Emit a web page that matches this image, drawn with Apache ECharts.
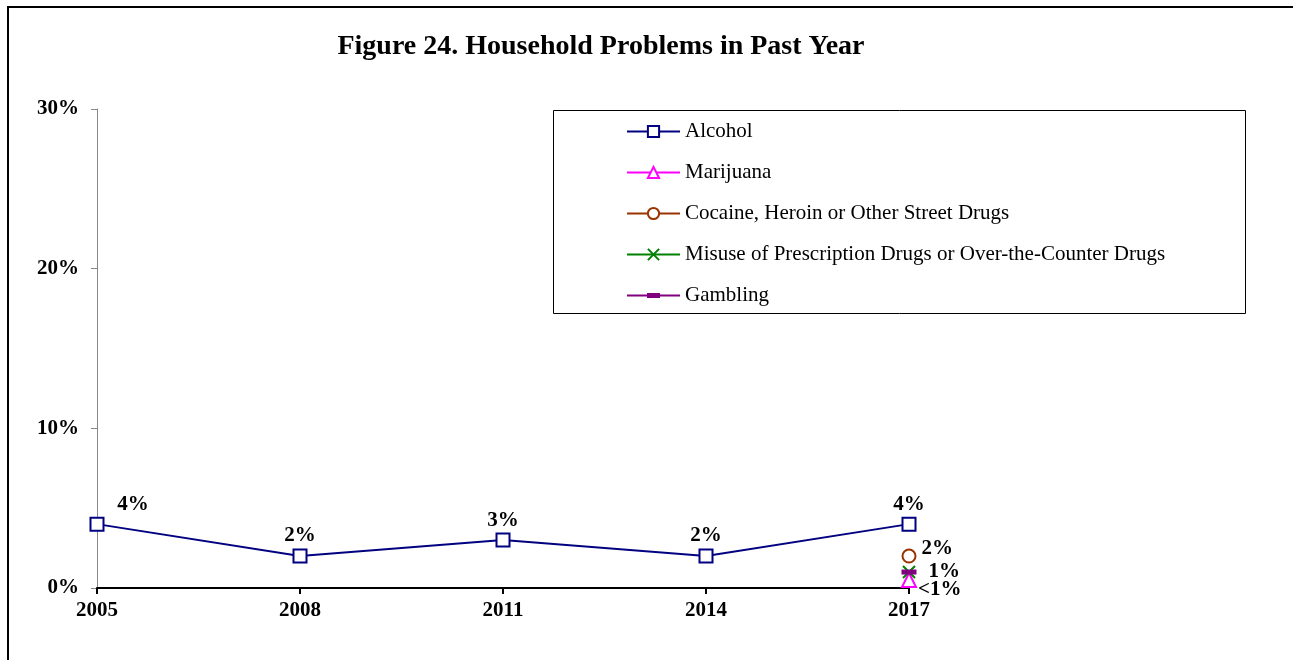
<!DOCTYPE html>
<html>
<head>
<meta charset="utf-8">
<script src="https://cdn.jsdelivr.net/npm/echarts@6/dist/echarts.min.js"></script>
<style>
  html, body { margin: 0; padding: 0; background: #fff; }
  #chart { width: 1293px; height: 660px; }
</style>
</head>
<body>
<div id="chart"></div>
<script>
// Survey years and percentage of households reporting each problem
const years = ['2005', '2008', '2011', '2014', '2017'];
const alcohol = [4, 2, 3, 2, 4];
const marijuana = [null, null, null, null, 0.5];
const cocaine = [null, null, null, null, 2];
const misuse = [null, null, null, null, 1];
const gambling = [null, null, null, null, 1];
const marijuanaLabel = '<1%';
const yTicks = [0, 10, 20, 30];

const serif = 'Liberation Serif, Times New Roman, serif';
const valueLabel = {
  show: true, position: 'top', distance: 2, fontFamily: serif, fontWeight: 'bold',
  fontSize: 21, color: '#000', formatter: p => p.value + '%'
};

// Legend glyph for the dash marker: a line with a short thick bar in the middle
// (two tiny corner dots keep the glyph's box at the full icon height)
const dashLegendIcon = 'path://M0,0L0.01,0L0.01,0.01Z M0,14L0.01,14L0.01,13.99Z ' +
  'M0,6L53,6L53,8L0,8Z M20,4.5L33,4.5L33,9.5L20,9.5Z';

const chart = echarts.init(document.getElementById('chart'));
chart.setOption({
  animation: false,
  backgroundColor: '#fff',
  title: {
    text: 'Figure 24. Household Problems in Past Year',
    left: 596, top: 28, textAlign: 'center',
    textStyle: { fontFamily: serif, fontWeight: 'bold', fontSize: 28, color: '#000' }
  },
  graphic: [
    { type: 'rect', shape: { x: 8, y: 7, width: 1400, height: 800 },
      style: { fill: 'none', stroke: '#000', lineWidth: 2 }, silent: true, z: -1 },
    { type: 'rect', shape: { x: 553.5, y: 110.5, width: 692, height: 203 },
      style: { fill: '#fff', stroke: '#000', lineWidth: 1 }, silent: true, z: 0 }
  ],
  legend: {
    orient: 'vertical', left: 626, top: 121, padding: 0,
    itemWidth: 53, itemHeight: 14, itemGap: 20,
    textStyle: { fontFamily: serif, fontSize: 21, lineHeight: 21, color: '#000' },
    z: 5,
    data: ['Alcohol', 'Marijuana', 'Cocaine, Heroin or Other Street Drugs',
           'Misuse of Prescription Drugs or Over-the-Counter Drugs',
           { name: 'Gambling', icon: dashLegendIcon }]
  },
  grid: { left: 97, right: 384, top: 109, bottom: 72, containLabel: false },
  xAxis: {
    type: 'category', data: years, boundaryGap: false,
    axisLine: { lineStyle: { color: '#000', width: 2 } },
    axisTick: { show: true, length: 6, lineStyle: { color: '#000', width: 2 } },
    axisLabel: { fontFamily: serif, fontWeight: 'bold', fontSize: 21, color: '#000', margin: 12 }
  },
  yAxis: {
    type: 'value', min: 0, max: 30, interval: 10,
    splitLine: { show: false },
    axisLine: { show: true, lineStyle: { color: '#888', width: 1 } },
    axisTick: { show: true, length: 6, lineStyle: { color: '#888' } },
    axisLabel: { fontFamily: serif, fontWeight: 'bold', fontSize: 21, color: '#000', margin: 18,
      formatter: v => yTicks.includes(v) ? v + '%' : '' }
  },
  series: [
    {
      name: 'Alcohol', type: 'line', data: alcohol.map((v, i) => i === 0
        ? { value: v, label: { offset: [36, 0] } } : v),
      symbol: 'rect', symbolSize: 13, showAllSymbol: true,
      lineStyle: { color: '#000080', width: 2 },
      itemStyle: { color: '#fff', borderColor: '#000080', borderWidth: 2 },
      label: valueLabel, z: 3
    },
    {
      name: 'Marijuana', type: 'line', data: marijuana,
      symbol: 'triangle', symbolSize: 14,
      lineStyle: { color: '#ff00ff', width: 2 },
      itemStyle: { color: '#fff', borderColor: '#ff00ff', borderWidth: 2 },
      label: Object.assign({}, valueLabel, { position: 'right', distance: 5, offset: [-4, 10], formatter: () => marijuanaLabel }),
      z: 3
    },
    {
      name: 'Cocaine, Heroin or Other Street Drugs', type: 'line', data: cocaine,
      symbol: 'circle', symbolSize: 13,
      lineStyle: { color: '#993300', width: 2 },
      itemStyle: { color: '#fff', borderColor: '#993300', borderWidth: 2 },
      label: Object.assign({}, valueLabel, { position: 'right', distance: 5, offset: [0, -7] }),
      z: 3
    },
    {
      name: 'Misuse of Prescription Drugs or Over-the-Counter Drugs', type: 'line', data: misuse,
      symbol: 'path://M0,0L10,10M10,0L0,10', symbolSize: 12,
      lineStyle: { color: '#008000', width: 2 },
      itemStyle: { color: 'none', borderColor: '#008000', borderWidth: 2 },
      label: Object.assign({}, valueLabel, { position: 'right', distance: 5, offset: [6, 0] }),
      z: 3
    },
    {
      name: 'Gambling', type: 'line', data: gambling,
      symbol: 'rect', symbolSize: [15, 5],
      lineStyle: { color: '#800080', width: 2 },
      itemStyle: { color: '#800080', borderColor: '#800080', borderWidth: 0 },
      label: { show: false }, z: 4
    }
  ]
});
</script>
</body>
</html>
